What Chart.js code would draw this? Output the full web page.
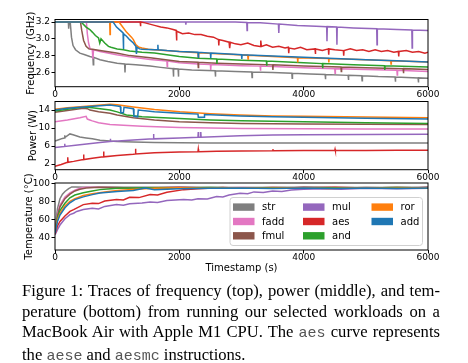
<!DOCTYPE html>
<html>
<head>
<meta charset="utf-8">
<script src="https://cdn.jsdelivr.net/npm/chart.js@4.4.1/dist/chart.umd.min.js"></script>
<style>
  html, body { margin: 0; padding: 0; background: #fff; }
  body { width: 468px; height: 363px; position: relative; overflow: hidden; }
  canvas { position: absolute; left: 0; top: 0; }
  .caption { position: absolute; left: 22px; top: 281px; width: 418px; font-family: "Liberation Serif", serif; font-size: 16.6px; line-height: 20.6px; color: #000; }
  .caption .j { text-align: justify; text-align-last: justify; }
  .tt { font-family: "Liberation Mono", monospace; font-size: 15px; color: #555; }
</style>
</head>
<body>
<canvas id="freq" width="468" height="276"></canvas>
<canvas id="power" width="468" height="276"></canvas>
<canvas id="temp" width="468" height="276"></canvas>
<div class="caption">
  <div class="j">Figure 1: Traces of frequency (top), power (middle), and tem-</div>
  <div class="j">perature (bottom) from running our selected workloads on a</div>
  <div class="j">MacBook Air with Apple M1 CPU. The <span class="tt">aes</span> curve represents</div>
  <div>the <span class="tt">aese</span> and <span class="tt">aesmc</span> instructions.</div>
</div>
<script>
const names = ["str", "fadd", "fmul", "mul", "aes", "and", "ror", "add"];
const colors = ["#7f7f7f", "#e377c2", "#8c564b", "#9467bd", "#d62728", "#2ca02c", "#ff7f0e", "#1f77b4"];
const xTicks = [0, 2000, 4000, 6000];

// frequency (GHz), [timestamp, value]
const freqStr = [[0,3.2],[215,3.2],[220,3.12],[226,3.2],[245,3.2],[265,3.02],[290,2.92],[330,2.87],[400,2.83],[480,2.81],[560,2.79],[610,2.78],[616,2.69],[622,2.78],[724,2.75],[850,2.73],[1000,2.71],[1120,2.7],[1126,2.6],[1132,2.7],[1300,2.69],[1530,2.675],[1700,2.66],[1900,2.645],[1905,2.55],[1910,2.645],[1980,2.64],[1985,2.55],[1990,2.64],[2200,2.63],[2575,2.62],[2580,2.55],[2585,2.62],[2900,2.61],[3165,2.605],[3170,2.54],[3175,2.605],[3500,2.6],[3810,2.59],[3815,2.53],[3820,2.59],[4100,2.58],[4345,2.575],[4350,2.52],[4355,2.575],[4715,2.565],[4720,2.51],[4725,2.565],[4935,2.56],[4940,2.5],[4945,2.56],[5200,2.55],[5470,2.545],[5475,2.49],[5480,2.545],[5840,2.535],[5845,2.48],[5850,2.535],[6000,2.53]];
const freqFadd = [[0,3.2],[505,3.2],[520,3.06],[540,2.95],[565,2.88],[600,2.87],[610,2.76],[620,2.87],[724,2.85],[850,2.83],[990,2.81],[1200,2.785],[1530,2.755],[1800,2.735],[1805,2.67],[1810,2.735],[2000,2.715],[2300,2.7],[2500,2.695],[2505,2.63],[2510,2.695],[3000,2.68],[3300,2.675],[3305,2.62],[3310,2.675],[4000,2.655],[4500,2.645],[4505,2.59],[4510,2.645],[5000,2.635],[5500,2.625],[5505,2.57],[5510,2.625],[6000,2.61]];
const freqFmul = [[0,3.2],[410,3.2],[430,3.1],[460,2.98],[500,2.91],[545,2.88],[600,2.875],[724,2.86],[990,2.83],[1200,2.8],[1530,2.775],[2000,2.73],[2300,2.72],[2305,2.66],[2310,2.72],[2600,2.71],[3000,2.7],[3500,2.69],[3505,2.63],[3510,2.69],[4000,2.675],[4600,2.665],[4605,2.61],[4610,2.665],[5000,2.655],[5600,2.645],[5605,2.59],[5610,2.645],[6000,2.635]];
const freqMul = [[0,3.2],[2100,3.2],[2105,3.17],[2110,3.2],[2900,3.2],[3085,3.195],[3090,3.1],[3095,3.195],[3300,3.19],[3594,3.175],[3600,3.07],[3606,3.175],[3900,3.16],[4200,3.15],[4370,3.145],[4375,2.97],[4380,3.145],[4530,3.14],[4535,2.93],[4540,3.14],[4800,3.13],[5175,3.12],[5180,2.93],[5185,3.12],[5500,3.11],[5740,3.105],[5745,2.89],[5750,3.105],[6000,3.1]];
const freqAes = [[0,3.2],[1370,3.2],[1375,3.15],[1380,3.2],[1450,3.19],[1600,3.16],[1700,3.14],[1800,3.13],[1900,3.11],[1950,3.1],[1955,2.98],[1960,3.09],[2050,3.06],[2150,3.07],[2250,3.05],[2350,3.05],[2450,3.03],[2550,3.02],[2630,2.99],[2635,2.92],[2640,2.99],[2700,2.98],[2800,2.96],[2810,2.89],[2820,2.96],[2900,2.94],[2990,2.93],[3100,2.95],[3200,2.92],[3300,2.91],[3310,2.98],[3320,2.91],[3400,2.93],[3500,2.9],[3600,2.91],[3700,2.89],[3754,2.9],[3760,2.83],[3766,2.89],[3850,2.88],[3950,2.9],[4050,2.87],[4183,2.88],[4188,2.82],[4193,2.88],[4300,2.86],[4398,2.88],[4403,2.81],[4408,2.88],[4500,2.87],[4639,2.86],[4644,2.8],[4649,2.86],[4750,2.88],[4850,2.86],[4950,2.87],[5050,2.85],[5150,2.87],[5250,2.85],[5350,2.86],[5450,2.84],[5524,2.85],[5529,2.79],[5534,2.85],[5650,2.86],[5750,2.84],[5850,2.85],[5950,2.83],[6000,2.84]];
const freqAnd = [[0,3.2],[420,3.2],[500,3.14],[560,3.11],[600,3.08],[650,3.04],[700,3.01],[720,2.95],[740,3.0],[800,2.95],[860,2.91],[900,2.9],[1000,2.88],[1100,2.87],[1200,2.855],[1400,2.84],[1600,2.83],[1800,2.81],[2000,2.79],[2300,2.77],[2600,2.76],[2605,2.7],[2610,2.76],[3000,2.745],[3400,2.735],[3405,2.68],[3410,2.735],[4000,2.715],[4300,2.705],[4305,2.65],[4310,2.705],[4800,2.69],[5300,2.68],[5305,2.63],[5310,2.68],[6000,2.665]];
const freqRor = [[0,3.2],[880,3.2],[885,3.05],[890,3.2],[1030,3.2],[1080,3.15],[1150,3.08],[1230,3.02],[1260,2.99],[1300,2.93],[1350,2.9],[1400,2.89],[1500,2.875],[1700,2.865],[2000,2.85],[2300,2.835],[2305,2.78],[2310,2.835],[2700,2.82],[3100,2.805],[3105,2.76],[3110,2.805],[3500,2.79],[3900,2.775],[3905,2.72],[3910,2.775],[4400,2.765],[4405,2.72],[4410,2.765],[5000,2.75],[5400,2.74],[5405,2.7],[5410,2.74],[6000,2.725]];
const freqAdd = [[0,3.2],[935,3.2],[990,3.14],[1050,3.1],[1095,3.07],[1100,2.88],[1105,3.06],[1150,3.03],[1200,2.99],[1260,2.95],[1300,2.91],[1310,2.82],[1320,2.9],[1360,2.88],[1400,2.875],[1600,2.87],[1650,2.87],[1655,2.93],[1660,2.87],[1800,2.86],[2000,2.85],[2300,2.84],[2305,2.78],[2310,2.84],[2500,2.83],[2505,2.77],[2510,2.83],[2800,2.82],[3000,2.81],[3005,2.76],[3010,2.81],[3500,2.795],[4000,2.78],[4500,2.765],[5000,2.75],[5500,2.74],[6000,2.725]];

// power (W)
const powStr = [[0,7.1],[60,7.4],[120,7.7],[150,7.8],[155,8.4],[160,7.9],[240,8.7],[290,8.5],[400,8.0],[500,7.8],[600,7.6],[724,7.3],[885,7.1],[1000,7.0],[1260,6.9],[1600,6.8],[2000,6.75],[2500,6.7],[3000,6.7],[4000,6.68],[5000,6.68],[6000,6.68]];
const powFadd = [[0,11.4],[200,11.8],[400,12.3],[500,12.6],[520,12.0],[560,11.8],[600,11.6],[700,11.2],[885,10.8],[1100,10.6],[1400,10.4],[2000,10.1],[2500,10.0],[3000,9.9],[4000,9.85],[5000,9.8],[6000,9.8]];
const powFmul = [[0,13.5],[200,13.9],[455,14.4],[520,14.3],[563,14.0],[700,13.6],[885,13.3],[1000,12.9],[1260,12.3],[1600,11.8],[2000,11.4],[2500,11.2],[3000,11.0],[4000,10.9],[5000,10.85],[6000,10.8]];
const powMul = [[0,5.7],[150,5.9],[155,6.5],[160,5.9],[400,6.3],[724,6.8],[885,7.0],[890,7.6],[895,7.0],[1260,7.35],[1580,7.6],[1585,8.7],[1590,7.6],[2000,7.8],[2300,7.95],[2305,9.1],[2310,7.95],[2340,7.95],[2345,9.1],[2350,7.95],[2977,8.3],[3500,8.45],[4000,8.5],[5000,8.55],[6000,8.6]];
const powAes = [[0,1.5],[100,1.9],[200,2.4],[205,3.5],[210,2.4],[300,2.6],[455,3.0],[460,4.1],[465,3.0],[600,3.3],[777,3.6],[782,4.8],[787,3.6],[1000,3.9],[1260,4.2],[1290,4.25],[1295,5.4],[1300,4.25],[1600,4.5],[2000,4.7],[2300,4.75],[2305,5.3],[2310,4.75],[2600,4.85],[3000,4.9],[3500,4.95],[3505,5.3],[3510,4.95],[4000,5.0],[4500,5.0],[4505,5.3],[4510,5.0],[5000,5.02],[5500,5.05],[6000,5.05]];
const powAnd = [[0,13.8],[200,14.2],[455,14.7],[600,14.5],[885,14.0],[1000,13.6],[1150,12.9],[1400,12.5],[2000,12.15],[2500,11.8],[3000,11.6],[4000,11.4],[5000,11.2],[6000,11.0]];
const powRor = [[0,14.2],[200,14.5],[455,14.8],[885,15.3],[1000,15.2],[1260,14.7],[1600,14.1],[2010,13.6],[2500,13.2],[2977,12.9],[3500,12.7],[4000,12.6],[5000,12.45],[6000,12.3]];
const powAdd = [[0,14.0],[200,14.4],[455,14.7],[885,15.1],[1000,14.9],[1050,14.8],[1060,13.4],[1100,13.4],[1110,14.6],[1260,14.3],[1270,12.6],[1330,12.5],[1340,14.0],[1600,13.6],[2010,13.3],[2300,13.1],[2305,12.4],[2400,12.4],[2405,13.0],[2977,12.7],[3500,12.5],[4000,12.4],[5000,12.2],[6000,12.0]];

// temperature (°C)
const tempStr = [[0,50],[40,72],[80,83],[120,88],[160,91],[220,94],[270,96],[330,96],[500,95.5],[1000,95.5],[2000,95.5],[3000,95.3],[4000,95.5],[5000,95.3],[6000,95.5]];
const tempFadd = [[0,48],[40,66],[80,76],[160,85],[240,89.5],[320,92.5],[400,94.5],[500,95.5],[700,95.5],[1000,95.2],[1500,94.6],[2000,95.5],[2500,94.8],[3000,95.3],[3500,94.7],[4000,95.4],[4500,94.8],[5000,95.2],[5500,94.7],[6000,95.4]];
const tempFmul = [[0,47],[40,64],[80,74],[160,83],[240,88],[320,91.5],[400,93.5],[500,94.8],[700,95.5],[1000,95.3],[1300,94.5],[2000,95.5],[2700,94.6],[3000,95.2],[3700,94.6],[4000,95.5],[4700,94.7],[5000,95.3],[5700,94.6],[6000,95.5]];
const tempMul = [[0,43],[40,49],[80,54],[160,61],[240,65.5],[300,67],[350,69],[455,71],[600,72.5],[700,71.8],[800,74.5],[990,76.5],[1100,75.8],[1200,77.5],[1400,78.2],[1530,79.5],[1650,78.8],[1800,81],[2070,82],[2200,81.5],[2300,83],[2450,82.6],[2600,85.5],[2700,84.8],[2800,87],[2977,89],[3100,88.4],[3200,90.5],[3350,89.8],[3500,91.5],[3650,91],[3800,92.5],[4000,93.5],[4300,94],[4600,93.4],[5000,94.5],[5500,94],[6000,94.5]];
const tempAes = [[0,44],[40,53],[80,58],[160,64],[240,69],[300,71],[455,76.5],[600,78],[700,77.6],[800,80.5],[990,82],[1100,81.6],[1200,84.5],[1350,84.2],[1530,87.5],[1650,87.2],[1800,90],[2070,93],[2300,94],[2700,95.4],[3000,94.5],[3500,95.3],[4000,94.8],[4500,95.5],[5000,94.8],[5500,95.4],[6000,94.8]];
const tempAnd = [[0,46],[40,62],[80,70],[160,78],[240,84],[320,87],[455,89.5],[600,91.5],[724,93],[900,94],[1000,94.5],[1500,95.2],[2000,94.8],[2500,95.3],[3000,94.8],[3500,95.2],[4000,94.8],[4500,95.2],[5000,94.8],[5500,95.3],[6000,94.8]];
const tempRor = [[0,46],[40,60],[80,67],[160,75],[240,80],[320,83],[455,86.5],[600,88.5],[800,90.5],[1000,92],[1300,93.5],[1600,94.5],[2000,95],[2400,94.4],[3000,95],[3400,94.4],[4000,95],[4400,94.3],[5000,95],[5400,94.4],[6000,95]];
const tempAdd = [[0,45],[40,58],[80,65],[160,73],[240,78.5],[320,82],[455,85],[600,87.5],[724,89.3],[1000,91],[1260,92],[1450,94.8],[1600,93],[2000,94],[2500,94.5],[3000,94.8],[3500,94.3],[4000,94.8],[4500,94.3],[5000,94.8],[5500,94.3],[6000,94.8]];

const freqTicks = [2.6, 2.8, 3.0, 3.2];
const powTicks = [2, 6, 10, 14];
const tempTicks = [40, 50, 60, 70, 80, 90, 100];

const tickFont = { family: "DejaVu Sans", size: 9 };
const titleFont = { family: "DejaVu Sans", size: 10 };

// matplotlib style box around the plot area
const frame = {
  id: "frame",
  afterDraw(chart) {
    const { ctx, chartArea: a } = chart;
    ctx.save();
    ctx.strokeStyle = "#000";
    ctx.lineWidth = 1;
    ctx.strokeRect(a.left, a.top, a.right - a.left, a.bottom - a.top);
    ctx.restore();
  }
};

// legend box inside the temperature panel
const boxLegend = {
  id: "boxLegend",
  afterDraw(chart) {
    const { ctx, chartArea: a } = chart;
    const w = 192.5, h = 48;
    const x0 = a.right - 5.5 - w, y0 = a.bottom - 4.5 - h;
    ctx.save();
    ctx.fillStyle = "rgba(255,255,255,0.85)";
    ctx.strokeStyle = "#d0d0d0";
    ctx.lineWidth = 1;
    ctx.beginPath();
    ctx.roundRect(x0, y0, w, h, 3);
    ctx.fill();
    ctx.stroke();
    const cols = [3, 73, 141.5];
    const rows = [9.6, 24, 38.3];
    ctx.font = "10px 'DejaVu Sans'";
    ctx.textBaseline = "middle";
    names.forEach((name, i) => {
      const c = Math.floor(i / 3), r = i % 3;
      const px = x0 + cols[c], py = y0 + rows[r];
      ctx.fillStyle = colors[i];
      ctx.fillRect(px, py - 3.7, 21.5, 7.4);
      ctx.fillStyle = "#000";
      ctx.fillText(name, px + 29, py + 0.5);
    });
    ctx.restore();
  }
};

function makePanel(id, series, yMin, yMax, yTicks, yTitle, titlePad, padTop, padBottom, xHeight, xTitle, extra) {
  const datasets = series.map((pts, i) => ({
    label: names[i],
    data: pts.map(([t, v]) => ({ x: t, y: v })),
    borderColor: colors[i],
    borderWidth: 1.5,
    pointRadius: 0,
    fill: false,
    tension: 0
  })).reverse();

  new Chart(document.getElementById(id), {
    type: "line",
    data: { datasets },
    options: {
      responsive: false,
      animation: false,
      events: [],
      layout: { padding: { left: 0, right: 40, top: padTop, bottom: padBottom } },
      plugins: { legend: { display: false }, tooltip: { enabled: false } },
      scales: {
        x: {
          type: "linear",
          min: 0,
          max: 6000,
          afterBuildTicks: (s) => { s.ticks = xTicks.map((v) => ({ value: v })); },
          afterFit: (s) => { s.height = xHeight; },
          ticks: { font: tickFont, color: "#000", padding: -1, maxRotation: 0, callback: (v) => String(v) },
          grid: { drawOnChartArea: false, tickLength: 3.5, color: "#000" },
          border: { display: false },
          title: { display: !!xTitle, text: xTitle || "", font: titleFont, color: "#000", padding: 0 }
        },
        y: {
          min: yMin,
          max: yMax,
          afterBuildTicks: (s) => { s.ticks = yTicks.map((v) => ({ value: v })); },
          afterFit: (s) => { s.width = 55; },
          ticks: { font: tickFont, color: "#000", padding: 1.5, callback: (v) => (yTicks === freqTicks ? v.toFixed(1) : String(v)) },
          grid: { drawOnChartArea: false, tickLength: 3.5, color: "#000" },
          border: { display: false },
          title: { display: true, text: yTitle, font: titleFont, color: "#000", padding: { top: titlePad, bottom: 0 } }
        }
      }
    },
    plugins: [frame].concat(extra || [])
  });
}

makePanel("freq",
  [freqStr, freqFadd, freqFmul, freqMul, freqAes, freqAnd, freqRor, freqAdd],
  2.43, 3.23, freqTicks, "Frequency (GHz)", 25.5, 19.5, 176.3, 13, null);
makePanel("power",
  [powStr, powFadd, powFmul, powMul, powAes, powAnd, powRor, powAdd],
  0.75, 15.9, powTicks, "Power (W)", 27.3, 101.5, 93.3, 13, null);
makePanel("temp",
  [tempStr, tempFadd, tempFmul, tempMul, tempAes, tempAnd, tempRor, tempAdd],
  26.5, 100.3, tempTicks, "Temperature (°C)", 23.3, 183, 2, 24, "Timestamp (s)", [boxLegend]);
</script>
</body>
</html>
